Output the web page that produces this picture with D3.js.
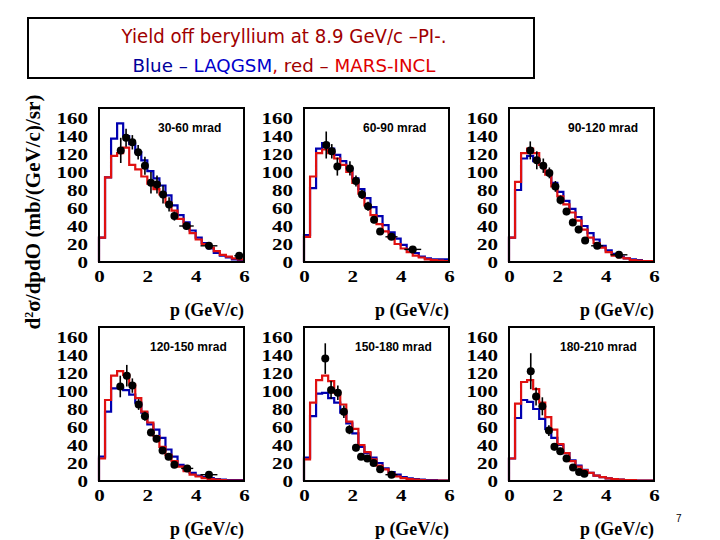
<!DOCTYPE html>
<html><head><meta charset="utf-8">
<script src="https://cdn.jsdelivr.net/npm/d3@7"></script>
<style>body{margin:0;background:#fff}svg{display:block}</style>
</head><body>
<script>
// ---------- data ----------
const binLow = [0,0.25,0.5,0.75,1,1.25,1.5,1.75,2,2.25,2.5,2.75,3,3.25,3.5,3.75,4,4.25,4.5,4.75,5,5.25,5.5,5.75];
const panelLabels = ["30-60 mrad","60-90 mrad","90-120 mrad","120-150 mrad","150-180 mrad","180-210 mrad"];
const yTicks = [0,20,40,60,80,100,120,140,160];
const xTicks = [0,2,4,6];

const blue1 = [27,94,137,154,140,131,122,113,101,93,85,74,63,52,44,35,27,21,15,10,7,5,3,2];
const red1  = [27,94,118,121,127,108,103,95,87,81,75,66,57,48,40,32,25,20,16,12,8,6,4,3];
const pts1  = [[0.9,124,14,0.1],[1.12,138,10,0.1],[1.38,133,8,0.1],[1.62,122,8,0.1],[1.9,107,10,0.1],[2.15,88,12,0.1],[2.4,86,10,0.1],[2.65,75,10,0.1],[2.9,64,8,0.1],[3.12,51,5,0.1],[3.62,40,4,0.3],[4.55,18,4,0.35],[5.8,7,3,0.2]];

const blue2 = [30,82,126,132,126,119,112,104,93,81,71,61,51,41,33,26,19,14,10,6,4,3,3,3];
const red2  = [28,95,121,125,121,115,108,100,88,76,63,52,42,34,27,20,15,11,7,5,3,2,1.5,1];
const pts2  = [[0.92,130,15,0.1],[1.15,123,8,0.1],[1.38,106,10,0.1],[1.9,104,8,0.1],[2.15,90,6,0.1],[2.4,75,5,0.1],[2.65,62,5,0.1],[2.9,47,4,0.1],[3.15,34,3,0.1],[3.62,28,3,0.25],[4.5,14,3,0.35]];

const blue3 = [27,80,115,118,112,108,100,88,78,68,59,50,40,32,25,18,13,9,6,4,3,2,1,1];
const red3  = [27,89,121,126,121,108,97,84,73,64,55,46,36,27,21,16,11,7,5,4,2,1.5,1,1];
const pts3  = [[0.88,124,10,0.1],[1.15,113,10,0.1],[1.42,107,8,0.1],[1.67,99,6,0.1],[1.92,84,6,0.1],[2.13,69,5,0.1],[2.38,56,4,0.1],[2.64,44,4,0.1],[2.88,36,4,0.1],[3.15,24,3,0.1],[3.65,18,3,0.25],[4.55,8,3,0.35]];

const blue4 = [27,77,103,103,101,96,87,76,63,57,48,35,27,18,13,9,6,4.4,3.3,2.2,1.5,1,1,1];
const red4  = [25,90,117,122,118,107,92,77,65,50,38,29,22,16,11,7,5,3.3,2.2,1.5,1,0.5,0.5,0.5];
const pts4  = [[0.88,105,12,0.1],[1.15,117,12,0.1],[1.38,106,8,0.1],[1.64,85,6,0.1],[1.9,72,5,0.1],[2.15,54,4,0.1],[2.38,47,4,0.1],[2.63,34,3,0.1],[2.88,27,3,0.1],[3.12,18,3,0.1],[3.65,14,3,0.25],[4.55,7,2,0.35]];

const blue5 = [26,72,97,98,92,87,76,64,53,38,31,26,20,14,10,7,4.4,3,2.2,1.5,1,1,0.5,0.5];
const red5  = [24,87,112,117,111,98,85,66,58,40,32,24,17,13,8,5,3.3,2.2,1.5,1,0.5,0.5,0.5,0.5];
const pts5  = [[0.88,136,17,0.1],[1.12,101,10,0.1],[1.4,98,8,0.1],[1.65,77,7,0.1],[1.88,57,5,0.1],[2.15,37,4,0.1],[2.36,27,3,0.1],[2.62,25,3,0.1],[2.88,20,3,0.1],[3.15,13,3,0.1],[3.62,7,2,0.25]];

const blue6 = [25,70,90,88,80,69,58,48,40,31,23,17,12.5,9,6,4.4,3,2.2,1.5,1,1,0.5,0.5,0.5];
const red6  = [25,86,110,112,102,87,71,57,41,31,22,16,12,9,6,4.4,3,2.2,1.5,1,1,0.5,0.5,0.5];
const pts6  = [[0.9,122,20,0.1],[1.12,94,10,0.1],[1.38,83,10,0.1],[1.65,56,6,0.1],[1.88,38,4,0.1],[2.12,33,4,0.1],[2.38,25,3,0.1],[2.65,15,3,0.1],[2.9,10,2,0.1],[3.12,8,2,0.1]];

const blues = [blue1,blue2,blue3,blue4,blue5,blue6];
const reds  = [red1,red2,red3,red4,red5,red6];
const pts   = [pts1,pts2,pts3,pts4,pts5,pts6];

// ---------- layout ----------
const W = 720, H = 540;
const svg = d3.select("body").append("svg").attr("width", W).attr("height", H);
svg.append("rect").attr("width", W).attr("height", H).attr("fill", "#fff");

// title box
svg.append("rect").attr("x", 28).attr("y", 18).attr("width", 506).attr("height", 60)
  .attr("fill", "none").attr("stroke", "#000").attr("stroke-width", 2);
const tfont = "'Comic Sans MS','DejaVu Sans',sans-serif";
svg.append("text").attr("x", 284).attr("y", 43).attr("text-anchor", "middle")
  .attr("font-family", tfont).attr("font-size", 20).attr("fill", "#a00000")
  .attr("textLength", 325).attr("lengthAdjust", "spacingAndGlyphs")
  .text("Yield off beryllium at 8.9 GeV/c –PI-.");
const t2 = svg.append("text").attr("x", 284).attr("y", 72).attr("text-anchor", "middle")
  .attr("font-family", tfont).attr("font-size", 20);
t2.append("tspan").attr("fill", "#000099").text("Blue – ");
t2.append("tspan").attr("fill", "#0000cc").text("LAQGSM");
t2.append("tspan").attr("fill", "#cc0000").text(",");
t2.append("tspan").attr("fill", "#a00000").text(" red – ");
t2.append("tspan").attr("fill", "#e00000").text("MARS-INCL");
const w2 = t2.node().getComputedTextLength();
if (w2 > 0) t2.attr("font-size", 20 * 303 / w2);

// y-axis title
const ytitle = svg.append("text").attr("transform", "translate(40,212) rotate(-90)")
  .attr("text-anchor", "middle").attr("font-family", "'Liberation Serif','Times New Roman',serif")
  .attr("font-weight", "bold").attr("font-size", 18).attr("fill", "#000");
ytitle.append("tspan").text("d");
ytitle.append("tspan").attr("baseline-shift", "super").attr("font-size", 12).text("2");
ytitle.append("tspan").attr("baseline-shift", "baseline").text("σ/dpdO  (mb/(GeV/c)/sr)");
const wy = ytitle.node().getComputedTextLength();
if (wy > 0) ytitle.attr("font-size", 18 * 236 / wy);

// page number
svg.append("text").attr("x", 676).attr("y", 522).attr("font-family", "'Liberation Sans',Arial,sans-serif")
  .attr("font-size", 10).attr("fill", "#000").text("7");

const lefts = [99, 304, 509];
const bottoms = [262, 481];
const PW = 145;

for (let i = 0; i < 6; i++) {
  const left = lefts[i % 3], bottom = bottoms[Math.floor(i / 3)];
  const top = bottom - 154;
  const x = d3.scaleLinear().domain([0, 6]).range([left, left + PW]);
  const y = d3.scaleLinear().domain([0, 160]).range([bottom, bottom - 144]);
  const g = svg.append("g");

  // histograms
  const line = d3.line().x(d => x(d[0])).y(d => y(d[1])).curve(d3.curveStepAfter);
  [[blues[i], "#0000b0"], [reds[i], "#e01010"]].forEach(([vals, col]) => {
    const pts0 = [[0, 0]].concat(binLow.map((b, k) => [b, vals[k]]));
    pts0.push([6, vals[vals.length - 1]]);
    g.append("path").attr("d", line(pts0)).attr("fill", "none")
      .attr("stroke", col).attr("stroke-width", 2.2);
  });

  // data points
  const pg = g.append("g");
  pts[i].forEach(([p, v, e, ex]) => {
    pg.append("line").attr("x1", x(p)).attr("x2", x(p)).attr("y1", y(v - e)).attr("y2", y(v + e))
      .attr("stroke", "#000").attr("stroke-width", 1.6);
    pg.append("line").attr("x1", x(p - ex)).attr("x2", x(p + ex)).attr("y1", y(v)).attr("y2", y(v))
      .attr("stroke", "#000").attr("stroke-width", 1.4);
    pg.append("circle").attr("cx", x(p)).attr("cy", y(v)).attr("r", 4).attr("fill", "#000");
  });

  // frame
  g.append("rect").attr("x", left).attr("y", top).attr("width", PW).attr("height", bottom - top)
    .attr("fill", "none").attr("stroke", "#000").attr("stroke-width", 2);

  // panel label
  g.append("text").attr("x", left + (i < 3 ? 59 : 51)).attr("y", top + 24)
    .attr("font-family", "'Liberation Sans',Arial,sans-serif").attr("font-weight", "bold")
    .attr("font-size", 12).attr("fill", "#000").text(panelLabels[i]);

  // y axis labels
  const ya = d3.axisLeft(y).tickValues(yTicks).tickFormat(d3.format("d")).tickSize(0).tickPadding(11);
  const yg = g.append("g").attr("transform", `translate(${left},0)`).call(ya);
  yg.select(".domain").remove();
  yg.selectAll("text").attr("font-family", "'Liberation Serif','Times New Roman',serif")
    .attr("font-weight", "bold").attr("font-size", 17).attr("fill", "#000")
    .attr("textLength", d => String(d).length * 10.5).attr("lengthAdjust", "spacingAndGlyphs");

  // x axis labels
  const xa = d3.axisBottom(x).tickValues(xTicks).tickFormat(d3.format("d")).tickSize(0).tickPadding(8);
  const xg = g.append("g").attr("transform", `translate(0,${bottom})`).call(xa);
  xg.select(".domain").remove();
  xg.selectAll("text").attr("font-family", "'Liberation Serif','Times New Roman',serif")
    .attr("font-weight", "bold").attr("font-size", 17).attr("fill", "#000")
    .attr("textLength", 10.5).attr("lengthAdjust", "spacingAndGlyphs");

  // x title
  g.append("text").attr("x", left + PW).attr("y", bottom + 54).attr("text-anchor", "end")
    .attr("font-family", "'Liberation Serif','Times New Roman',serif").attr("font-weight", "bold")
    .attr("font-size", 18).attr("fill", "#000")
    .attr("textLength", 74).attr("lengthAdjust", "spacingAndGlyphs").text("p (GeV/c)");
}
</script>
</body></html>
